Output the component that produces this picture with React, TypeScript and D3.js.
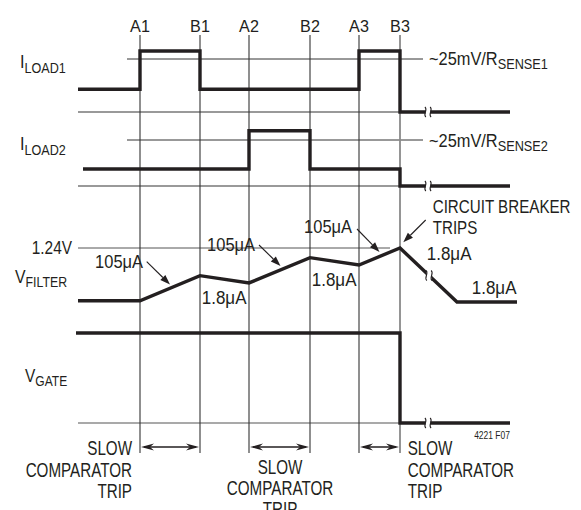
import React from "react";
import * as d3 from "d3";

// ---- data ----
const EVENT_LABELS = ["A1", "B1", "A2", "B2", "A3", "B3"];
const EVENT_T = [62, 122, 171, 232, 281, 322];
const T_END = 432;
const T_BREAK = 350;

// ILOAD1 (step after), levels relative to ~25mV/RSENSE1 threshold = 1
const ILOAD1_T = [0, 62, 122, 281, 322, 432];
const ILOAD1_V = [0.43, 1.15, 0.43, 1.15, 0, 0];
// ILOAD2
const ILOAD2_T = [5, 171, 232, 322, 432];
const ILOAD2_V = [0.37, 1.2, 0.37, 0, 0];
// VFILTER (volts, linear)
const VFILTER_T = [0, 62, 122, 171, 232, 281, 322, 379, 439];
const VFILTER_V = [0.908, 0.908, 1.066, 1.02, 1.179, 1.133, 1.24, 0.9, 0.9];
// VGATE (step after)
const VGATE_T = [-2, 322, 432];
const VGATE_V = [1, 0, 0];

const SPANS = [[0, 1], [2, 3], [4, 5]];

const INK = "#231f20";
const FONT = "'Liberation Sans', Arial, Helvetica, sans-serif";

const x = d3.scaleLinear().domain([0, T_END]).range([78, 510]);
const yL1 = d3.scaleLinear().domain([0, 1]).range([112, 59]);
const yL2 = d3.scaleLinear().domain([0, 1]).range([186, 140]);
const yVF = d3.scaleLinear().domain([0.9, 1.24]).range([302, 248]);
const yVG = d3.scaleLinear().domain([0, 1]).range([423, 333]);

function stepPath(ts: number[], vs: number[], ys: d3.ScaleLinear<number, number>) {
  const g = d3
    .line<number>()
    .x((_, i) => x(ts[i]))
    .y((v) => ys(v))
    .curve(d3.curveStepAfter);
  return g(vs) || "";
}
function linPath(ts: number[], vs: number[], ys: d3.ScaleLinear<number, number>) {
  const g = d3
    .line<number>()
    .x((_, i) => x(ts[i]))
    .y((v) => ys(v));
  return g(vs) || "";
}

function T({ x: tx, y: ty, anchor = "start", size = 18, sx = 0.88, children }: any) {
  return (
    <text
      transform={`translate(${tx},${ty}) scale(${sx},1)`}
      textAnchor={anchor}
      fontSize={size}
      fill={INK}
      fontFamily={FONT}
    >
      {children}
    </text>
  );
}

function Break({ cx, cy }: { cx: number; cy: number }) {
  const s = (xx: number) =>
    `M${xx - 0.5},${cy - 5} C${xx + 3},${cy - 2.5} ${xx - 3},${cy + 2.5} ${xx + 0.5},${cy + 5}`;
  return (
    <g>
      <rect x={cx - 2.5} y={cy - 4} width={5} height={8} fill="#fff" />
      <path d={s(cx - 2.6)} fill="none" stroke={INK} strokeWidth={1.1} />
      <path d={s(cx + 2.6)} fill="none" stroke={INK} strokeWidth={1.1} />
    </g>
  );
}

function Pointer({ x1, y1, x2, y2 }: any) {
  const a = Math.atan2(y2 - y1, x2 - x1);
  const L = 10, W = 3.6;
  const bx = x2 - L * Math.cos(a), by = y2 - L * Math.sin(a);
  const px = -Math.sin(a) * W, py = Math.cos(a) * W;
  return (
    <g>
      <line x1={x1} y1={y1} x2={bx} y2={by} stroke={INK} strokeWidth={1.1} />
      <path d={`M${x2},${y2} L${bx + px},${by + py} L${bx - px},${by - py} Z`} fill={INK} />
    </g>
  );
}

function DoubleArrow({ xa, xb, y }: any) {
  const L = 13, W = 3.4, n = 9;
  return (
    <g>
      <line x1={xa + 4} y1={y} x2={xb - 4} y2={y} stroke={INK} strokeWidth={1.3} />
      <path d={`M${xa + 1},${y} L${xa + 1 + L},${y - W} L${xa + 1 + n},${y} L${xa + 1 + L},${y + W} Z`} fill={INK} />
      <path d={`M${xb - 1},${y} L${xb - 1 - L},${y - W} L${xb - 1 - n},${y} L${xb - 1 - L},${y + W} Z`} fill={INK} />
    </g>
  );
}

export default function App() {
  const thick = { fill: "none", stroke: INK, strokeWidth: 3.4, strokeLinejoin: "miter" as const };
  const tB3 = EVENT_T[5];
  const vfBreakY = yVF(1.24) + ((x(T_BREAK) - x(tB3)) * (yVF(0.9) - yVF(1.24))) / (x(379) - x(tB3));
  return (
    <svg width={581} height={510} style={{ position: "absolute", left: 0, top: 0, background: "#fff" }}>
      <rect width={581} height={510} fill="#fff" />
      {/* reference lines */}
      <line x1={x(49)} x2={x(345)} y1={yL1(1)} y2={yL1(1)} stroke="#333" strokeWidth={1} />
      <line x1={x(0)} x2={x(tB3)} y1={yL1(0)} y2={yL1(0)} stroke="#777" strokeWidth={1.3} />
      <line x1={x(49)} x2={x(345)} y1={yL2(1)} y2={yL2(1)} stroke="#333" strokeWidth={1} />
      <line x1={x(0)} x2={x(tB3)} y1={yL2(0)} y2={yL2(0)} stroke="#777" strokeWidth={1.3} />
      <line x1={x(0)} x2={x(312)} y1={yVF(1.24)} y2={yVF(1.24)} stroke="#555" strokeWidth={1} />
      <line x1={x(0)} x2={x(tB3)} y1={yVG(0)} y2={yVG(0)} stroke="#555" strokeWidth={1.2} />

      {/* event verticals */}
      {EVENT_T.map((t, i) => (
        <line
          key={i}
          x1={x(t)}
          x2={x(t)}
          y1={35}
          y2={453}
          stroke={i === 5 ? "#8a8a8a" : "#333"}
          strokeWidth={i === 5 ? 1.8 : 1.1}
        />
      ))}
      {EVENT_LABELS.map((l, i) => (
        <T key={l} x={x(EVENT_T[i])} y={32} anchor="middle" size={17} sx={0.95}>
          {l}
        </T>
      ))}

      {/* waveforms */}
      <path d={stepPath(ILOAD1_T, ILOAD1_V, yL1)} {...thick} />
      <path d={stepPath(ILOAD2_T, ILOAD2_V, yL2)} {...thick} />
      <path d={linPath(VFILTER_T, VFILTER_V, yVF)} {...thick} strokeLinejoin="miter" />
      <path d={stepPath(VGATE_T, VGATE_V, yVG)} {...thick} />

      <Break cx={x(T_BREAK)} cy={yL1(0)} />
      <Break cx={x(T_BREAK)} cy={yL2(0)} />
      <Break cx={x(T_BREAK)} cy={yVG(0)} />
      <Break cx={x(T_BREAK) + 1} cy={vfBreakY + 1} />

      {/* row labels */}
      <T x={20} y={68} size={18} sx={0.9}>
        I<tspan dy={4.5} fontSize={14}>LOAD1</tspan>
      </T>
      <T x={20} y={150} size={18} sx={0.9}>
        I<tspan dy={4.5} fontSize={14}>LOAD2</tspan>
      </T>
      <T x={15} y={283} size={18} sx={0.88}>
        V<tspan dy={3.5} fontSize={14}>FILTER</tspan>
      </T>
      <T x={25} y={382} size={18} sx={0.86}>
        V<tspan dy={3.5} fontSize={14}>GATE</tspan>
      </T>
      <T x={72} y={254} anchor="end" size={17.5} sx={0.88}>1.24V</T>

      <T x={429} y={65} size={18} sx={0.91}>
        ~25mV/R<tspan dy={3.5} fontSize={14}>SENSE1</tspan>
      </T>
      <T x={429} y={147} size={18} sx={0.91}>
        ~25mV/R<tspan dy={3.5} fontSize={14}>SENSE2</tspan>
      </T>

      {/* current annotations */}
      <T x={143} y={268} anchor="end" size={18.5} sx={0.89}>105μA</T>
      <T x={255} y={250.5} anchor="end" size={18.5} sx={0.89}>105μA</T>
      <T x={352} y={232.5} anchor="end" size={18.5} sx={0.89}>105μA</T>
      <T x={201.7} y={304} size={18.5} sx={0.92}>1.8μA</T>
      <T x={311.7} y={286} size={18.5} sx={0.92}>1.8μA</T>
      <T x={426.7} y={260} size={18.5} sx={0.92}>1.8μA</T>
      <T x={471.7} y={294.3} size={18.5} sx={0.92}>1.8μA</T>
      <T x={432.7} y={213.3} size={18.5} sx={0.82}>CIRCUIT BREAKER</T>
      <T x={432.7} y={234.3} size={18.5} sx={0.82}>TRIPS</T>

      <Pointer x1={146.7} y1={261.7} x2={170} y2={284.5} />
      <Pointer x1={259} y1={245} x2={280.5} y2={266} />
      <Pointer x1={357} y1={229} x2={379.5} y2={252} />
      <Pointer x1={425.7} y1={220} x2={403.3} y2={242.3} />

      {/* slow comparator trip spans */}
      {SPANS.map(([a, b], i) => (
        <DoubleArrow key={i} xa={x(EVENT_T[a])} xb={x(EVENT_T[b])} y={447} />
      ))}

      <T x={132} y={455} anchor="end" size={19.5} sx={0.78}>SLOW</T>
      <T x={132} y={476.5} anchor="end" size={19.5} sx={0.78}>COMPARATOR</T>
      <T x={132} y={497.5} anchor="end" size={19.5} sx={0.78}>TRIP</T>

      <T x={280} y={473.5} anchor="middle" size={19.5} sx={0.78}>SLOW</T>
      <T x={280} y={495} anchor="middle" size={19.5} sx={0.78}>COMPARATOR</T>
      <T x={280} y={516} anchor="middle" size={19.5} sx={0.78}>TRIP</T>

      <T x={407.7} y={455} size={19.5} sx={0.78}>SLOW</T>
      <T x={407.7} y={476.5} size={19.5} sx={0.78}>COMPARATOR</T>
      <T x={407.7} y={497.5} size={19.5} sx={0.78}>TRIP</T>

      <T x={510} y={439} anchor="end" size={10} sx={0.85}>4221 F07</T>
    </svg>
  );
}
